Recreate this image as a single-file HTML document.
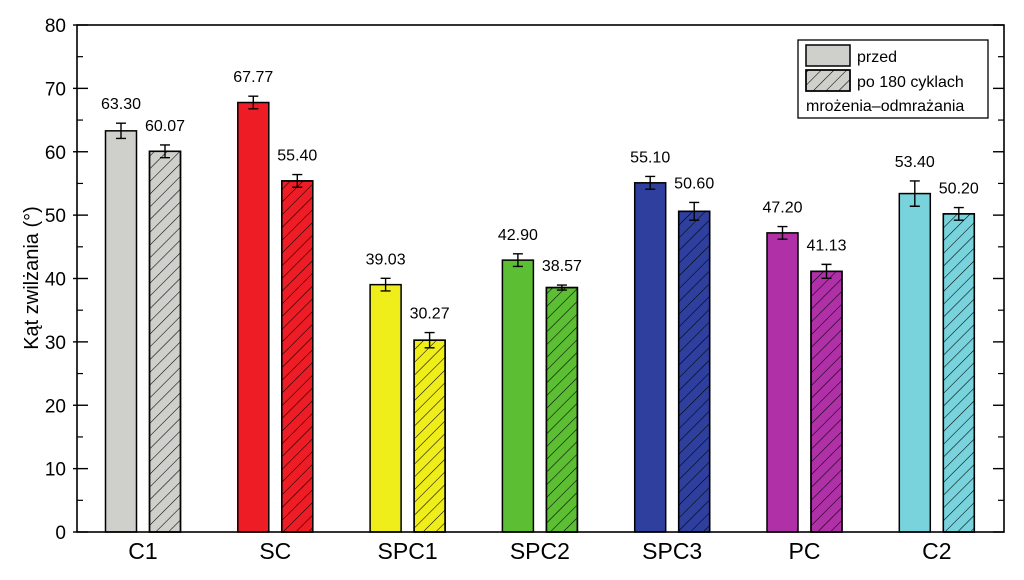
<!DOCTYPE html>
<html><head><meta charset="utf-8"><style>
body{margin:0;background:#fff}
svg{display:block;font-family:"Liberation Sans",Arial,sans-serif}
</style></head><body>
<svg id="chart" width="1024" height="580">
<defs>
<pattern id="hatch" width="9" height="9" patternUnits="userSpaceOnUse" patternTransform="rotate(45)">
<line x1="0" y1="0" x2="0" y2="9" stroke="#000" stroke-width="1.1"/>
</pattern>
</defs>
<g id="bars"></g>
<rect x="77" y="25" width="927" height="507" fill="none" stroke="#000" stroke-width="1.6"/>
<g id="axes"></g>
<text transform="translate(38,278) rotate(-90)" text-anchor="middle" font-size="20">Kąt zwilżania (°)</text>
<g>
<rect x="798" y="40" width="190" height="78" fill="#fff" stroke="#000" stroke-width="1.3"/>
<rect x="806" y="45" width="44" height="21" fill="#cfcfcb" stroke="#000" stroke-width="1.5"/>
<text x="857" y="62" font-size="16">przed</text>
<rect x="806" y="70" width="44" height="21" fill="#cfcfcb" stroke="#000" stroke-width="1.5"/>
<rect x="806" y="70" width="44" height="21" fill="url(#hatch)" stroke="#000" stroke-width="1.5"/>
<text x="857" y="87" font-size="16">po 180 cyklach</text>
<text x="806" y="111" font-size="16">mrożenia–odmrażania</text>
</g>
</svg>
<script>
const categories=["C1","SC","SPC1","SPC2","SPC3","PC","C2"];
const colors=["#cfcfcb","#ee1c25","#f0ee1a","#5cbe32","#2e3f9e","#b030a8","#78d3dc"];
const before=[63.30,67.77,39.03,42.90,55.10,47.20,53.40];
const after=[60.07,55.40,30.27,38.57,50.60,41.13,50.20];
const errBefore=[1.2,1.0,1.0,1.0,1.0,1.0,2.0];
const errAfter=[1.0,1.0,1.2,0.4,1.4,1.1,1.0];
const yTicks=[0,10,20,30,40,50,60,70,80];
const ns="http://www.w3.org/2000/svg";
const y=v=>532-v*(507/80);
const cx=i=>143+i*132.3;
const bars=document.getElementById('bars'),axes=document.getElementById('axes');
function mk(tag,attrs,parent){const e=document.createElementNS(ns,tag);for(const k in attrs)e.setAttribute(k,attrs[k]);parent.appendChild(e);return e;}
categories.forEach((c,i)=>{
 [[before[i],errBefore[i],-22,false],[after[i],errAfter[i],22,true]].forEach(([v,e,off,h])=>{
  const x=cx(i)+off-15.5;
  const r=mk('rect',{x:x,y:y(v),width:31,height:532-y(v),fill:colors[i],stroke:'#000','stroke-width':1.5},bars);
  
  
  if(h)mk('rect',{x:x,y:y(v),width:31,height:532-y(v),fill:'url(#hatch)',stroke:'#000','stroke-width':1.5},bars);
  const m=x+15.5,t=y(v+e),b=y(v-e);
  const eb=mk('path',{d:`M${m} ${t}V${b}M${m-5} ${t}H${m+5}M${m-5} ${b}H${m+5}`,stroke:'#000','stroke-width':1.4,fill:'none'},bars);
  
  
  const tx=mk('text',{x:m,y:t-14,'text-anchor':'middle','font-size':16},bars);
  tx.textContent=v.toFixed(2);
  
  
 });
 const cl=mk('text',{x:cx(i),y:559,'text-anchor':'middle','font-size':23},axes);
 cl.textContent=c;
 
 
});
yTicks.forEach(v=>{
 mk('line',{x1:73,x2:88,y1:y(v),y2:y(v),stroke:'#000','stroke-width':1.4},axes);
 mk('line',{x1:993,x2:1004,y1:y(v),y2:y(v),stroke:'#000','stroke-width':1.4},axes);
 if(v<80){mk('line',{x1:77,x2:83,y1:y(v+5),y2:y(v+5),stroke:'#000','stroke-width':1.2},axes);
  mk('line',{x1:998,x2:1004,y1:y(v+5),y2:y(v+5),stroke:'#000','stroke-width':1.2},axes);}
 const t=mk('text',{x:66,y:y(v)+7,'text-anchor':'end','font-size':19},axes);
 t.textContent=v;
 
 
});
</script>
</body></html>
